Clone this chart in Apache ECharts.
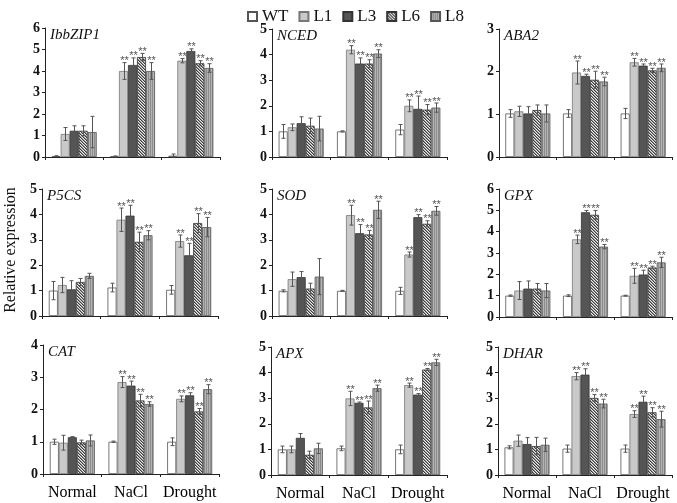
<!DOCTYPE html>
<html><head><meta charset="utf-8">
<script src="https://cdn.jsdelivr.net/npm/echarts@6/dist/echarts.min.js"></script>
<style>html,body{margin:0;padding:0;background:#fff}#c{width:677px;height:503px}</style>
</head><body><div id="c"></div>
<script>
// ---------------- DATA ----------------
const categories = ['Normal', 'NaCl', 'Drought'];
const lines = ['WT', 'L1', 'L3', 'L6', 'L8'];
const genes = ['IbbZIP1', 'NCED', 'ABA2', 'P5CS', 'SOD', 'GPX', 'CAT', 'APX', 'DHAR'];
const yMax = [6, 5, 3, 5, 5, 6, 4, 5, 5];
// rows: WT, L1, L3, L6, L8 ; columns: Normal, NaCl, Drought
const ibbzip1Mean = [[0.04,0.03,0.06],[1.07,4.0,4.48],[1.22,4.28,4.93],[1.22,4.65,4.36],[1.16,4.0,4.14]];
const ibbzip1Err  = [[0.02,0.02,0.08],[0.3,0.39,0.1],[0.23,0.33,0.1],[0.23,0.17,0.12],[0.73,0.39,0.2]];
const ncedMean = [[1.0,1.0,1.07],[1.16,4.19,2.0],[1.32,3.65,1.88],[1.22,3.65,1.85],[1.11,4.04,1.93]];
const ncedErr  = [[0.27,0.02,0.2],[0.13,0.16,0.23],[0.25,0.22,0.5],[0.3,0.15,0.2],[0.48,0.15,0.18]];
const aba2Mean = [[1.02,1.02,1.02],[1.07,1.98,2.22],[1.02,1.9,2.14],[1.1,1.81,2.03],[1.02,1.77,2.09]];
const aba2Err  = [[0.09,0.09,0.12],[0.12,0.27,0.09],[0.16,0.04,0.04],[0.12,0.2,0.05],[0.2,0.1,0.09]];
const p5csMean = [[1.0,1.12,1.03],[1.22,3.79,2.95],[1.05,3.95,2.39],[1.34,2.92,3.66],[1.58,3.18,3.5]];
const p5csErr  = [[0.36,0.17,0.17],[0.3,0.46,0.24],[0.34,0.41,0.47],[0.14,0.38,0.37],[0.1,0.18,0.38]];
const sodMean = [[0.99,0.99,0.99],[1.45,3.97,2.42],[1.53,3.26,3.89],[1.08,3.21,3.63],[1.55,4.18,4.14]];
const sodErr  = [[0.04,0.02,0.14],[0.28,0.39,0.1],[0.22,0.34,0.1],[0.21,0.16,0.12],[0.71,0.34,0.17]];
const gpxMean = [[1.0,1.0,1.0],[1.24,3.64,1.93],[1.33,4.91,1.99],[1.33,4.79,2.32],[1.24,3.3,2.56]];
const gpxErr  = [[0.03,0.04,0.02],[0.42,0.2,0.35],[0.36,0.08,0.2],[0.24,0.2,0.06],[0.33,0.1,0.24]];
const catMean = [[1.0,1.0,1.0],[0.97,2.85,2.33],[1.14,2.74,2.44],[0.98,2.28,1.94],[1.04,2.17,2.63]];
const catErr  = [[0.08,0.02,0.12],[0.23,0.17,0.09],[0.02,0.14,0.08],[0.07,0.19,0.09],[0.17,0.07,0.14]];
const apxMean = [[1.0,1.04,1.0],[1.0,2.99,3.51],[1.45,2.82,3.14],[0.79,2.64,4.12],[1.04,3.39,4.4]];
const apxErr  = [[0.13,0.09,0.17],[0.13,0.28,0.08],[0.17,0.03,0.04],[0.14,0.25,0.04],[0.2,0.12,0.12]];
const dharMean = [[1.08,1.03,1.03],[1.34,3.86,2.38],[1.21,3.92,2.86],[1.13,3.01,2.45],[1.18,2.79,2.18]];
const dharErr  = [[0.06,0.14,0.14],[0.22,0.14,0.13],[0.25,0.23,0.22],[0.34,0.13,0.18],[0.26,0.17,0.31]];
// significance (**) per line x condition
const sigMarks = [[0,0,0],[0,1,1],[0,1,1],[0,1,1],[0,1,1]];

const means = [ibbzip1Mean, ncedMean, aba2Mean, p5csMean, sodMean, gpxMean, catMean, apxMean, dharMean];
const errs  = [ibbzip1Err, ncedErr, aba2Err, p5csErr, sodErr, gpxErr, catErr, apxErr, dharErr];

// ---------------- LAYOUT / STYLE ----------------
const panelLeft = [45,272,499, 42,272,499, 43,271,498];
const panelTop  = [28,29,29, 189,189,189, 345,347,347];
const panelW    = [175,175,173, 176,175,173, 176,176,174];
const panelH    = [129,128,128, 127,127,128, 129,128,128];
const BW = 9;
const SERIF = 'Liberation Serif';

function makePattern(n, fn) {
  const c = document.createElement('canvas');
  c.width = n; c.height = n;
  const ctx = c.getContext('2d');
  const img = ctx.createImageData(n, n);
  for (let y = 0; y < n; y++) for (let x = 0; x < n; x++) {
    const v = fn(x, y);
    const k = (y * n + x) * 4;
    img.data[k] = v; img.data[k+1] = v; img.data[k+2] = v; img.data[k+3] = 255;
  }
  ctx.putImageData(img, 0, 0);
  return c;
}
const hatch = makePattern(3, (x, y) => [60, 150, 235][((x - y) % 3 + 3) % 3]);
const vstripe = makePattern(2, (x, y) => (x % 2 === 0 ? 140 : 180));

const fills = [
  '#ffffff',
  '#c9c9c9',
  '#555555',
  { image: hatch, repeat: 'repeat' },
  { image: vstripe, repeat: 'repeat' }
];
const borders = ['#555', '#777', '#333', '#333', '#555'];

const grid = [], xAxis = [], yAxis = [], series = [], title = [];
genes.forEach((g, p) => {
  grid.push({ left: panelLeft[p], top: panelTop[p], width: panelW[p], height: panelH[p] });
  xAxis.push({
    type: 'category', gridIndex: p, data: categories,
    axisLine: { lineStyle: { color: '#222', width: 1 } },
    axisTick: { show: true, length: 3, lineStyle: { color: '#222' } },
    axisLabel: { show: p >= 6, interval: 0, fontFamily: SERIF, fontSize: 16, color: '#000', margin: 11 }
  });
  yAxis.push({
    type: 'value', gridIndex: p, min: 0, max: yMax[p], interval: 1,
    splitLine: { show: false },
    axisLine: { show: true, lineStyle: { color: '#222', width: 1 } },
    axisTick: { show: true, length: 3, lineStyle: { color: '#222' } },
    axisLabel: { fontFamily: SERIF, fontSize: 14, fontWeight: 'bold', color: '#111', margin: 5 }
  });
  title.push({
    text: g, left: panelLeft[p] + 5, top: panelTop[p], padding: 0,
    textStyle: { fontFamily: SERIF, fontStyle: 'italic', fontWeight: 'normal', fontSize: 15, color: '#111' }
  });
  lines.forEach((ln, li) => {
    series.push({
      name: ln, type: 'bar', xAxisIndex: p, yAxisIndex: p,
      data: means[p][li], barWidth: BW, barGap: 0,
      itemStyle: { color: fills[li], borderColor: borders[li], borderWidth: 0.8 },
      emphasis: { disabled: true }, animation: false
    });
  });
  const eData = [];
  lines.forEach((ln, li) => {
    categories.forEach((c, ci) => {
      eData.push([ci, means[p][li][ci], errs[p][li][ci], li, sigMarks[li][ci]]);
    });
  });
  series.push({
    type: 'custom', xAxisIndex: p, yAxisIndex: p, data: eData, z: 5,
    encode: { x: 0, y: 1 }, animation: false, silent: true,
    renderItem: function (params, api) {
      const cat = api.value(0), mean = api.value(1), err = api.value(2), si = api.value(3), sig = api.value(4);
      const base = api.coord([cat, mean]);
      const x = Math.round(base[0] + (si - 2) * BW) + 0.5;
      const top = api.coord([cat, mean + err])[1];
      const bot = api.coord([cat, Math.max(mean - err, 0)])[1];
      const st = { stroke: '#555', lineWidth: 1 };
      const ch = [
        { type: 'line', shape: { x1: x, y1: top, x2: x, y2: bot }, style: st },
        { type: 'line', shape: { x1: x - 2, y1: top, x2: x + 2, y2: top }, style: st },
        { type: 'line', shape: { x1: x - 2, y1: bot, x2: x + 2, y2: bot }, style: st }
      ];
      if (sig) ch.push({ type: 'text', x: x, y: top + 4,
        style: { text: '**', fontSize: 11, fontFamily: 'Liberation Sans', fill: '#555', align: 'center', verticalAlign: 'bottom' } });
      return { type: 'group', children: ch };
    }
  });
});

const chart = echarts.init(document.getElementById('c'), null, { renderer: 'canvas' });
chart.setOption({
  backgroundColor: '#fff',
  animation: false,
  title: title,
  legend: {
    data: lines, left: 242, top: 3, icon: 'rect', itemWidth: 9, itemHeight: 9, itemGap: 10,
    selectedMode: false,
    textStyle: { fontFamily: SERIF, fontSize: 17, color: '#111' }
  },
  grid: grid, xAxis: xAxis, yAxis: yAxis, series: series,
  graphic: [{
    type: 'text', x: 11, y: 250, rotation: Math.PI / 2,
    style: { text: 'Relative expression', fontFamily: SERIF, fontSize: 16, fill: '#111', align: 'center', verticalAlign: 'middle' }
  }]
});
</script></body></html>
